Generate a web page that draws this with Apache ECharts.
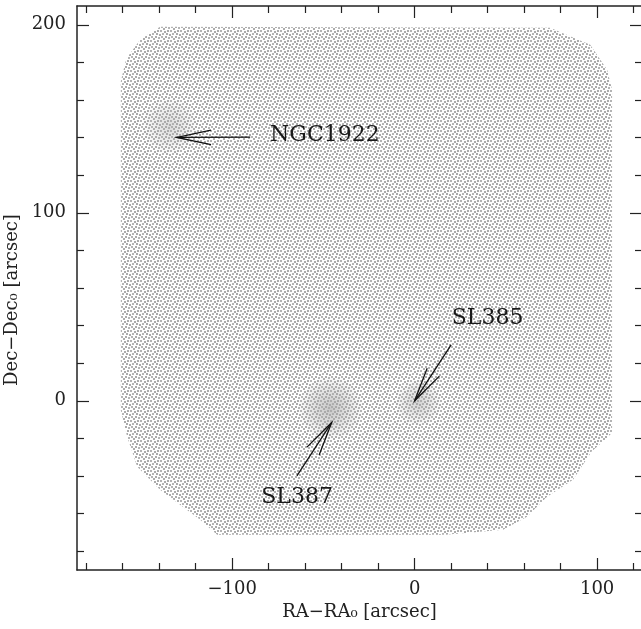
<!DOCTYPE html>
<html>
<head>
<meta charset="utf-8">
<script src="https://cdn.jsdelivr.net/npm/echarts@6/dist/echarts.min.js"></script>
<style>
  html, body { margin: 0; padding: 0; background: #ffffff; }
  #chart { width: 641px; height: 629px; }
</style>
</head>
<body>
<div id="chart"></div>
<script>
// Outline of the observed stellar field (offsets in arcsec), clockwise from the top-left corner
const footprintRA  = [-139.5, 74.2, 96.2, 105.5, 108.2, 108.2, 104.0, 97.0, 86.8, 72.6, 61.6, 48.5, 16.7,
                      -108.2, -117.5, -139.5, -152.0, -157.5, -161.0, -161.0, -158.0, -150.4];
const footprintDec = [198.9, 198.4, 189.4, 176.1, 165.4, -17.0, -21.0, -27.0, -42.0, -51.0, -61.7, -68.6, -71.3,
                      -71.3, -63.3, -47.3, -35.1, -19.1, -5.0, 170.0, 182.0, 192.0];

// Star clusters inside the field
const clusterNames = ['NGC1922', 'SL385', 'SL387'];
const clusterRA    = [-134, 2, -46];
const clusterDec   = [146, -1, -4];

// Annotation arrows (tail -> tip) and label anchors, in arcsec
const arrowTail = [[-90.1, 140.2], [20.0, 29.8], [-64.5, -39.9]];
const arrowTip  = [[-130.3, 140.1], [0.0, 0.0], [-45.4, -11.5]];
const labelAt   = [[-79.2, 141.0], [40.0, 44.1], [-64.4, -51.3]];
const labelAlign = ['left', 'center', 'center'];

// Tick values
const xMajorTicks = [-100, 0, 100];
const xMinorTicks = [-180, -160, -140, -120, -80, -60, -40, -20, 20, 40, 60, 80, 120];
const yMajorTicks = [0, 100, 200];
const yMinorTicks = [-80, -60, -40, -20, 20, 40, 60, 80, 120, 140, 160, 180];

const X_MIN = -185, X_MAX = 124.6, Y_MIN = -90, Y_MAX = 210;

// Stipple texture used to shade the field (small grey dots)
const tile = document.createElement('canvas');
tile.width = 10; tile.height = 10;
const tctx = tile.getContext('2d');
const stipple = [[0,0],[4,1],[7,0],[2,3],[6,3],[9,4],[1,6],[5,6],[3,8],[8,7]];
stipple.forEach(function (d, k) {
  tctx.fillStyle = k % 3 === 0 ? '#b4b4b4' : '#ababab';
  tctx.fillRect(d[0], d[1], 2, 2);
  if (d[0] === 9) tctx.fillRect(d[0] - 10, d[1], 2, 2);
});

// Sizes / shading of the cluster overdensities
const blobSize  = [58, 48, 66];
const blobAlpha = [0.5, 0.62, 0.8];

const SERIF = '"DejaVu Serif", "Liberation Serif", serif';
const INK = '#222';
const fmt = function (v) { return String(v).replace('-', '\u2212'); };

function axisX(grid, pos, ticks, len, withLabels) {
  const ax = {
    gridIndex: grid, type: 'value', position: pos, min: X_MIN, max: X_MAX,
    axisLine: { show: grid === 0, onZero: false, lineStyle: { color: INK, width: 1.5 } },
    axisTick: { show: true, inside: true, length: len, customValues: ticks, lineStyle: { color: INK, width: 1.2 } },
    axisLabel: { show: false },
    splitLine: { show: false }
  };
  if (withLabels) {
    ax.axisLabel = { show: true, customValues: ticks, formatter: fmt, fontFamily: SERIF, fontSize: 18, color: INK, margin: 10 };
    ax.name = 'RA\u2212RA\u2080 [arcsec]';
    ax.nameLocation = 'middle';
    ax.nameGap = 32;
    ax.nameTextStyle = { fontFamily: SERIF, fontSize: 18, color: INK };
  }
  return ax;
}

function axisY(grid, pos, ticks, len, withLabels) {
  const ax = {
    gridIndex: grid, type: 'value', position: pos, min: Y_MIN, max: Y_MAX,
    axisLine: { show: grid === 0, onZero: false, lineStyle: { color: INK, width: 1.5 } },
    axisTick: { show: true, inside: true, length: len, customValues: ticks, lineStyle: { color: INK, width: 1.2 } },
    axisLabel: { show: false },
    splitLine: { show: false }
  };
  if (withLabels) {
    ax.axisLabel = { show: true, customValues: ticks, formatter: fmt, fontFamily: SERIF, fontSize: 18, color: INK, margin: 11 };
    ax.name = 'Dec\u2212Dec\u2080 [arcsec]';
    ax.nameLocation = 'middle';
    ax.nameGap = 56;
    ax.nameMoveOverlap = false;
    ax.nameTextStyle = { fontFamily: SERIF, fontSize: 18, color: INK, padding: [0, 24, 0, 0] };
  }
  return ax;
}

const chart = echarts.init(document.getElementById('chart'), null, { renderer: 'canvas' });

const gridRect = { left: 77, top: 6, width: 565, height: 564, containLabel: false, outerBoundsMode: 'none' };

chart.setOption({
  animation: false,
  backgroundColor: '#ffffff',
  grid: [Object.assign({}, gridRect), Object.assign({}, gridRect)],
  xAxis: [
    axisX(0, 'bottom', xMajorTicks, 12, true),
    axisX(0, 'top', xMajorTicks, 12, false),
    axisX(1, 'bottom', xMinorTicks, 7, false),
    axisX(1, 'top', xMinorTicks, 7, false)
  ],
  yAxis: [
    axisY(0, 'left', yMajorTicks, 12, true),
    axisY(0, 'right', yMajorTicks, 12, false),
    axisY(1, 'left', yMinorTicks, 7, false),
    axisY(1, 'right', yMinorTicks, 7, false)
  ],
  series: [
    {
      // stellar field
      type: 'custom', xAxisIndex: 0, yAxisIndex: 0, silent: true, z: 1,
      data: [[footprintRA[0], footprintDec[0]]],
      renderItem: function (params, api) {
        const pts = footprintRA.map(function (ra, i) { return api.coord([ra, footprintDec[i]]); });
        return { type: 'polygon', shape: { points: pts }, style: { fill: { image: tile, repeat: 'repeat' }, stroke: null } };
      }
    },
    {
      // cluster overdensities
      type: 'scatter', xAxisIndex: 0, yAxisIndex: 0, silent: true, z: 2,
      data: clusterRA.map(function (ra, i) {
        const a = blobAlpha[i];
        return {
          value: [ra, clusterDec[i]],
          symbolSize: blobSize[i],
          itemStyle: {
            color: new echarts.graphic.RadialGradient(0.5, 0.5, 0.5, [
              { offset: 0, color: 'rgba(168,168,168,' + a + ')' },
              { offset: 0.45, color: 'rgba(168,168,168,' + (a * 0.6) + ')' },
              { offset: 1, color: 'rgba(168,168,168,0)' }
            ])
          }
        };
      })
    },
    {
      // labelled arrows
      type: 'custom', xAxisIndex: 0, yAxisIndex: 0, silent: true, z: 3,
      data: clusterNames.map(function (n, i) { return [arrowTip[i][0], arrowTip[i][1]]; }),
      renderItem: function (params, api) {
        const i = params.dataIndex;
        const a = api.coord(arrowTail[i]);
        const b = api.coord(arrowTip[i]);
        const ang = Math.atan2(a[1] - b[1], a[0] - b[0]);
        const L = 35, h = 12 * Math.PI / 180;
        const h1 = [b[0] + L * Math.cos(ang + h), b[1] + L * Math.sin(ang + h)];
        const h2 = [b[0] + L * Math.cos(ang - h), b[1] + L * Math.sin(ang - h)];
        const t = api.coord(labelAt[i]);
        return {
          type: 'group',
          children: [
            { type: 'polyline', shape: { points: [a, b] }, style: { stroke: '#111', lineWidth: 1.3, fill: null } },
            { type: 'polyline', shape: { points: [h1, b, h2] }, style: { stroke: '#111', lineWidth: 1.3, fill: null } },
            { type: 'text', x: t[0], y: t[1],
              style: { text: clusterNames[i], fill: '#1a1a1a', font: '22px ' + SERIF, align: labelAlign[i], verticalAlign: 'middle' } }
          ]
        };
      }
    }
  ]
});
</script>
</body>
</html>
